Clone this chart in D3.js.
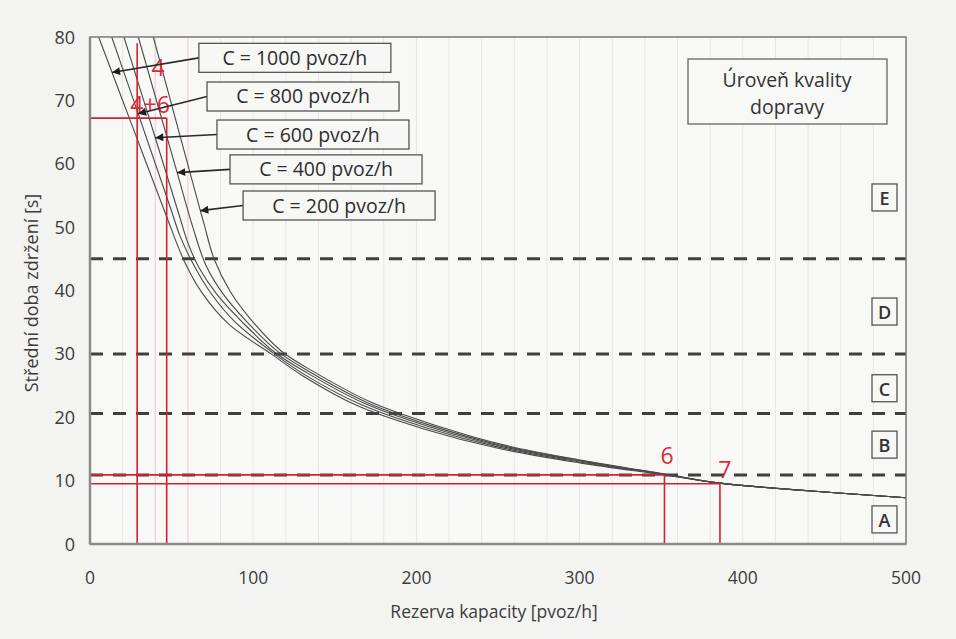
<!DOCTYPE html>
<html>
<head>
<meta charset="utf-8">
<script src="https://cdn.jsdelivr.net/npm/d3@7"></script>
<style>
body { margin:0; background:#f3f3f2; }
#vizcontainer { width:956px; height:639px; }
svg text { font-family: "Open Sans", "Noto Sans", sans-serif; }
</style>
</head>
<body>
<div id="vizcontainer"></div>
<script>
// axis ticks
var xTicks = [0, 100, 200, 300, 400, 500];
var yTicks = [0, 10, 20, 30, 40, 50, 60, 70, 80];
var xGrid = [20, 40, 60, 80, 100, 120, 140, 160, 180, 200, 220, 240, 260, 280, 300, 320, 340, 360, 380, 400, 420, 440, 460, 480];

// curves: [rezerva kapacity, stredni doba zdrzeni]
var capacities = ["C = 1000 pvoz/h", "C = 800 pvoz/h", "C = 600 pvoz/h", "C = 400 pvoz/h", "C = 200 pvoz/h"];
var curveC1000 = [[5.3,80],[26,65.9],[46,52.3],[58,44.5],[69,39.5],[85,34.7],[111,30],[130,26.6],[164,21.8],[204,18.2],[250,15.1],[300,12.8],[352,10.9],[386,9.6],[440,8.4],[500,7.3]];
var curveC800 = [[13.3,80],[29.5,67.9],[50,52.5],[55,48.7],[63,44.3],[74,39.6],[89,35],[112,30.2],[131,26.8],[166,22],[206,18.35],[251,15.25],[301,12.9],[352,10.95],[386,9.6],[440,8.4],[500,7.3]];
var curveC600 = [[20.8,80],[40,64.1],[55,51.6],[60,47.5],[67,43.5],[78,39.3],[93,35.1],[113,30.3],[133,27],[168,22.2],[208,18.5],[252,15.4],[302,13],[352,11],[386,9.6],[440,8.4],[500,7.3]];
var curveC400 = [[29.6,80],[53.4,58.6],[63,50],[71,44],[82,39.3],[96,35.1],[115,30.4],[135,27.1],[170,22.3],[210,18.6],[253,15.5],[303,13.05],[352,11.03],[386,9.6],[440,8.4],[500,7.3]];
var curveC200 = [[38.8,80],[67.6,52.6],[70,50.4],[76,45],[86,39.8],[99,35.3],[117,30.5],[137,27.2],[172,22.4],[212,18.7],[254,15.6],[304,13.1],[352,11.05],[386,9.6],[440,8.4],[500,7.3]];
var curves = [curveC1000, curveC800, curveC600, curveC400, curveC200];
var arrowTips = [[13.5,74.4],[29.5,67.9],[40,64.1],[53.4,58.6],[67.6,52.6]];
var boxAnchors = [[66.7,79],[71.7,72.9],[77.8,66.9],[85.8,61.4],[93.8,55.7]];

// urovne kvality dopravy
var losBounds = [10.9, 20.6, 30, 45];
var losLetters = ["A", "B", "C", "D", "E"];
var losLetterY = [3.8, 15.6, 24.5, 36.6, 54.6];

// red construction lines: [x1, y1, x2, y2]
var redLines = [[28.9,0,28.9,79],[47,0,47,67.2],[0,67.2,47,67.2],[0,10.9,352,10.9],[0,9.5,386,9.5],[352,0,352,10.9],[386,0,386,9.5]];
var redLabels = ["4", "4+6", "6", "7"];
var redLabelPos = [[41.7,73.8],[36.8,68],[353.6,12.6],[389,10.4]];
var faintRed = [40, 60];

var margin = {left:90, right:50, top:37, bottom:95};
var wwidth = 956, hheight = 639;

var svg = d3.select("#vizcontainer").append("svg")
	.attr("width", wwidth)
	.attr("height", hheight);

var x = d3.scaleLinear().domain([0,500]).range([margin.left, wwidth - margin.right]);
var y = d3.scaleLinear().domain([0,80]).range([hheight - margin.bottom, margin.top]);

svg.append("rect")
	.attr("x", x(0)).attr("y", y(80))
	.attr("width", x(500)-x(0)).attr("height", y(0)-y(80))
	.attr("fill", "#f8f8f7");

// faint background verticals
svg.append("g").selectAll("line").data(xGrid).enter().append("line")
	.attr("x1", function(d){ return x(d); }).attr("x2", function(d){ return x(d); })
	.attr("y1", y(80)).attr("y2", y(0))
	.attr("stroke", "#e6e6e6").attr("stroke-width", 1);

svg.append("g").selectAll("line").data(faintRed).enter().append("line")
	.attr("x1", function(d){ return x(d); }).attr("x2", function(d){ return x(d); })
	.attr("y1", y(80)).attr("y2", y(0))
	.attr("stroke", "#f3d2d2").attr("stroke-width", 1);

// dashed LOS boundaries
svg.append("g").selectAll("line").data(losBounds).enter().append("line")
	.attr("x1", x(0)).attr("x2", x(500))
	.attr("y1", function(d){ return y(d); }).attr("y2", function(d){ return y(d); })
	.attr("stroke", "#3f3f3f").attr("stroke-width", 3)
	.attr("stroke-dasharray", "13,10");

// curves
var line = d3.line()
	.x(function(d){ return x(d[0]); })
	.y(function(d){ return y(d[1]); })
	.curve(d3.curveCatmullRom.alpha(0.5));

svg.append("g").selectAll("path").data(curves).enter().append("path")
	.attr("d", line)
	.attr("fill", "none")
	.attr("stroke", "#4a4a4a")
	.attr("stroke-width", 1.1);

// red lines
svg.append("g").selectAll("line").data(redLines).enter().append("line")
	.attr("x1", function(d){ return x(d[0]); }).attr("y1", function(d){ return y(d[1]); })
	.attr("x2", function(d){ return x(d[2]); }).attr("y2", function(d){ return y(d[3]); })
	.attr("stroke", "#d3222f").attr("stroke-width", 1.6);

svg.append("g").selectAll("text").data(redLabels).enter().append("text")
	.attr("x", function(d,i){ return x(redLabelPos[i][0]); })
	.attr("y", function(d,i){ return y(redLabelPos[i][1]); })
	.attr("text-anchor", "middle")
	.attr("font-size", "23px")
	.attr("fill", "#dc2a36")
	.text(function(d){ return d; });

// frame
svg.append("rect")
	.attr("x", x(0)).attr("y", y(80))
	.attr("width", x(500)-x(0)).attr("height", y(0)-y(80))
	.attr("fill", "none").attr("stroke", "#7a7a7a").attr("stroke-width", 1.5);
svg.append("line").attr("x1", x(0)).attr("x2", x(0)).attr("y1", y(80)).attr("y2", y(0))
	.attr("stroke", "#8a8a8a").attr("stroke-width", 2.5);
svg.append("line").attr("x1", x(0)).attr("x2", x(500)).attr("y1", y(0)).attr("y2", y(0))
	.attr("stroke", "#8a8a8a").attr("stroke-width", 2.5);

// capacity label boxes with arrows
svg.append("defs").append("marker")
	.attr("id", "arr").attr("viewBox", "0 0 10 10")
	.attr("refX", 10).attr("refY", 5)
	.attr("markerWidth", 15).attr("markerHeight", 8)
	.attr("markerUnits", "userSpaceOnUse")
	.attr("orient", "auto")
	.append("path").attr("d", "M0,0 L10,5 L0,10 z").attr("fill", "#1e1e1e");

var boxW = 192, boxH = 29;
var boxes = svg.append("g").selectAll("g").data(capacities).enter().append("g");
boxes.append("line")
	.attr("x1", function(d,i){ return x(boxAnchors[i][0]); })
	.attr("y1", function(d,i){ return y(boxAnchors[i][1]) + boxH/2; })
	.attr("x2", function(d,i){ return x(arrowTips[i][0]); })
	.attr("y2", function(d,i){ return y(arrowTips[i][1]); })
	.attr("stroke", "#2a2a2a").attr("stroke-width", 1.6)
	.attr("marker-end", "url(#arr)");
boxes.append("rect")
	.attr("x", function(d,i){ return x(boxAnchors[i][0]); })
	.attr("y", function(d,i){ return y(boxAnchors[i][1]); })
	.attr("width", boxW).attr("height", boxH)
	.attr("fill", "#f7f7f6").attr("stroke", "#555").attr("stroke-width", 1.3);
boxes.append("text")
	.attr("x", function(d,i){ return x(boxAnchors[i][0]) + boxW/2; })
	.attr("y", function(d,i){ return y(boxAnchors[i][1]) + boxH/2 + 7; })
	.attr("text-anchor", "middle")
	.attr("font-size", "19.5px")
	.attr("fill", "#2e2e2e")
	.text(function(d){ return d; });

// legend box
var lg = svg.append("g");
lg.append("rect").attr("x", 688).attr("y", 59).attr("width", 199).attr("height", 65)
	.attr("fill", "#f8f8f7").attr("stroke", "#666").attr("stroke-width", 1.3);
lg.append("text").attr("x", 787).attr("y", 87).attr("text-anchor", "middle")
	.attr("font-size", "19.5px").attr("fill", "#333").text("Úroveň kvality");
lg.append("text").attr("x", 787).attr("y", 114).attr("text-anchor", "middle")
	.attr("font-size", "19.5px").attr("fill", "#333").text("dopravy");

// LOS letters
var lt = svg.append("g").selectAll("g").data(losLetters).enter().append("g");
lt.append("rect")
	.attr("x", x(500) - 34)
	.attr("y", function(d,i){ return y(losLetterY[i]) - 14; })
	.attr("width", 25).attr("height", 27)
	.attr("fill", "#f7f7f6").attr("stroke", "#555").attr("stroke-width", 1.3);
lt.append("text")
	.attr("x", x(500) - 21.5)
	.attr("y", function(d,i){ return y(losLetterY[i]) + 7; })
	.attr("text-anchor", "middle")
	.attr("font-size", "18px").attr("font-weight", "600")
	.attr("fill", "#333")
	.text(function(d){ return d; });

// axes labels
svg.append("g").selectAll("text").data(yTicks).enter().append("text")
	.attr("x", 75)
	.attr("y", function(d){ return y(d) + 6.5; })
	.attr("text-anchor", "end")
	.attr("font-size", "18px").attr("fill", "#3c3c3c")
	.text(function(d){ return d; });

svg.append("g").selectAll("text").data(xTicks).enter().append("text")
	.attr("x", function(d){ return x(d); })
	.attr("y", 584)
	.attr("text-anchor", "middle")
	.attr("font-size", "17.5px").attr("fill", "#3c3c3c")
	.text(function(d){ return d; });

svg.append("text")
	.attr("x", 494).attr("y", 618)
	.attr("text-anchor", "middle")
	.attr("font-size", "17.5px").attr("fill", "#3c3c3c")
	.text("Rezerva kapacity [pvoz/h]");

svg.append("text")
	.attr("transform", "translate(38,293) rotate(-90)")
	.attr("text-anchor", "middle")
	.attr("font-size", "18px").attr("fill", "#3c3c3c")
	.text("Střední doba zdržení [s]");
</script>
</body>
</html>
